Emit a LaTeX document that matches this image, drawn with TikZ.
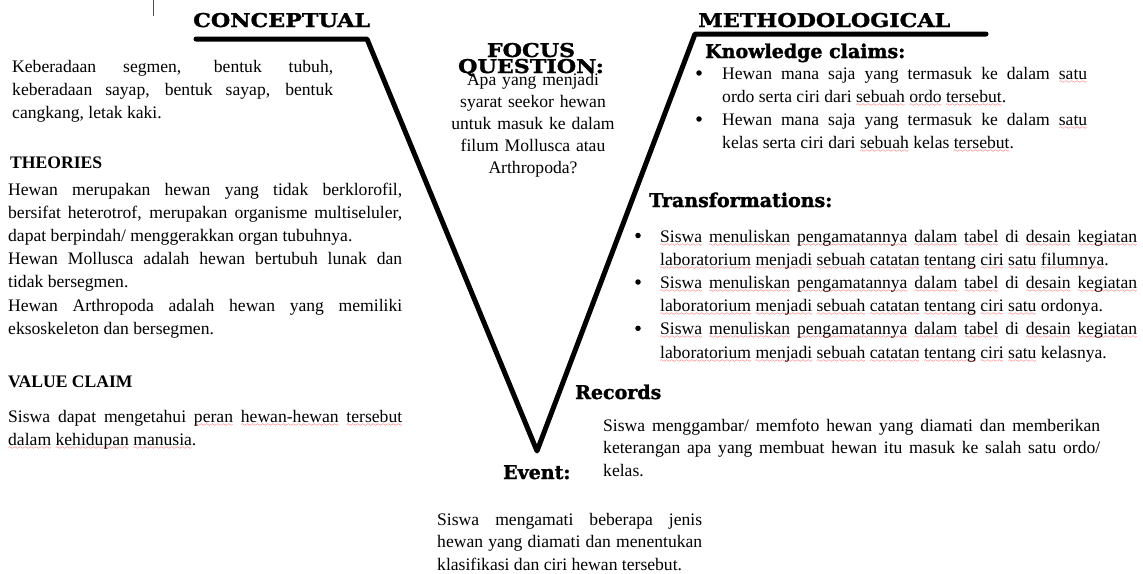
\documentclass[tikz,border=0pt]{standalone}
\usepackage{fontspec}
\usepackage{xcolor}
\setmainfont{Liberation Serif}
\newfontfamily\capfont[FakeStretch=1.17,FakeBold=1.5]{DejaVu Serif}
\newfontfamily\subfont[FakeBold=1.5]{DejaVu Serif}
\font\wavefont=lasy6
\newsavebox\sqbox
\newcommand\sq[1]{\sbox\sqbox{#1}\leavevmode\rlap{\raisebox{-4pt}[0pt][0pt]{\color{red}\hbox to\wd\sqbox{\xleaders\hbox{\wavefont\char58}\hfil}}}\usebox\sqbox}
\newcommand\bodyfont{\fontsize{17.6}{23.2}\selectfont}
\newcommand\trline[1]{\sq{Siswa} \sq{menuliskan} \sq{pengamatannya} \sq{dalam} \sq{tabel} di \sq{desain} \sq{kegiatan}\linebreak
  \sq{laboratorium} \sq{menjadi} \sq{sebuah} \sq{catatan} \sq{tentang} \sq{ciri} \sq{satu} #1.}
\hyphenpenalty=10000
\exhyphenpenalty=10000

\begin{document}
\begin{tikzpicture}[x=1pt,y=-1pt,
	vline/.style={line width=5pt,line join=round,line cap=round},
	txt/.style={anchor=base west,inner sep=0pt,align=justify,font=\bodyfont},
	bul/.style={circle,fill=black,inner sep=0pt,minimum size=5.5pt},
	bighead/.style={anchor=base west,inner sep=0pt,font=\capfont\bfseries\fontsize{19}{16}\selectfont},
	subhead/.style={anchor=base west,inner sep=0pt,font=\subfont\bfseries\fontsize{19}{19}\selectfont},
	plainhead/.style={anchor=base west,inner sep=0pt,font=\bfseries\bodyfont}]
	\useasboundingbox (0,0) rectangle (1143,573);

	\coordinate (cl) at (196,39);
	\coordinate (ct) at (367,39);
	\coordinate (vb) at (537,451);
	\coordinate (mt) at (695,34);
	\coordinate (mr) at (986,34);
	\draw[vline] (cl) -- (ct) -- (vb) -- (mt) -- (mr);

	\coordinate (cur1) at (153,0);
	\coordinate (cur2) at (153,16);
	\draw[black!70,line width=1pt] (cur1) -- (cur2);

	\node[bighead] (conc) at (193,27) {CONCEPTUAL};
	\node[bighead] (meth) at (698,27) {METHODOLOGICAL};
	\node[bighead,anchor=base,align=center] (focus) at (531,73) {FOCUS\\QUESTION:};

	\node[txt,text width=321pt,font=\fontsize{17.6}{23}\selectfont] (ideas) at (12,72) {Keberadaan segmen, bentuk tubuh,\linebreak
		keberadaan sayap, bentuk sayap, bentuk\linebreak cangkang, letak kaki.};
	\node[plainhead] (theohead) at (10,168) {THEORIES};
	\node[txt,text width=394pt] (theo) at (8,195) {Hewan merupakan hewan yang tidak berklorofil,\linebreak
		bersifat heterotrof, merupakan organisme multiseluler,\linebreak dapat berpindah/ menggerakkan organ tubuhnya.\par
		Hewan Mollusca adalah hewan bertubuh lunak dan\linebreak tidak bersegmen.\par
		Hewan Arthropoda adalah hewan yang memiliki\linebreak eksoskeleton dan bersegmen.};
	\node[plainhead] (valhead) at (8,387) {VALUE CLAIM};
	\node[txt,text width=394pt] (val) at (8,422) {Siswa dapat mengetahui \sq{peran} \sq{hewan-hewan} \sq{tersebut}\linebreak
		\sq{dalam} \sq{kehidupan} \sq{manusia}.};

	\node[txt,anchor=base,align=center,text width=180pt,font=\fontsize{17.6}{22}\selectfont] (fq) at (533,85)
		{Apa yang menjadi\\syarat seekor hewan\\untuk masuk ke dalam\\filum Mollusca atau\\Arthropoda?};

	\node[subhead] (kchead) at (705,58) {Knowledge claims:};
	\node[bul] (kcb1) at (699,73) {};
	\node[txt,text width=365pt,font=\fontsize{17.6}{23}\selectfont] (kc1) at (722,79)
		{Hewan mana saja yang termasuk ke dalam \sq{satu}\linebreak ordo serta ciri dari \sq{sebuah} \sq{ordo} \sq{tersebut}.};
	\node[bul] (kcb2) at (699,119) {};
	\node[txt,text width=365pt,font=\fontsize{17.6}{23}\selectfont] (kc2) at (722,125)
		{Hewan mana saja yang termasuk ke dalam \sq{satu}\linebreak kelas serta ciri dari \sq{sebuah} kelas \sq{tersebut}.};

	\node[subhead] (trhead) at (649,207) {Transformations:};
	\node[bul] (trb1) at (638,235.5) {};
	\node[txt,text width=477pt] (tr1) at (660,242) {\trline{\sq{filumnya}}};
	\node[bul] (trb2) at (638,282) {};
	\node[txt,text width=477pt] (tr2) at (660,288.4) {\trline{ordonya}};
	\node[bul] (trb3) at (638,328.3) {};
	\node[txt,text width=477pt] (tr3) at (660,334.8) {\trline{kelasnya}};

	\node[subhead] (rechead) at (575,399) {Records};
	\node[txt,text width=497pt,font=\fontsize{17.6}{22.8}\selectfont] (rec) at (603,431)
		{Siswa menggambar/ memfoto hewan yang diamati dan memberikan\linebreak
		keterangan apa yang membuat hewan itu masuk ke salah satu ordo/\linebreak kelas.};

	\node[subhead] (evhead) at (503,479) {Event:};
	\node[txt,text width=265pt,font=\fontsize{17.6}{22.6}\selectfont] (ev) at (437,525)
		{Siswa mengamati beberapa jenis\linebreak hewan yang diamati dan menentukan\linebreak
		klasifikasi dan ciri hewan tersebut.};
\end{tikzpicture}
\end{document}
